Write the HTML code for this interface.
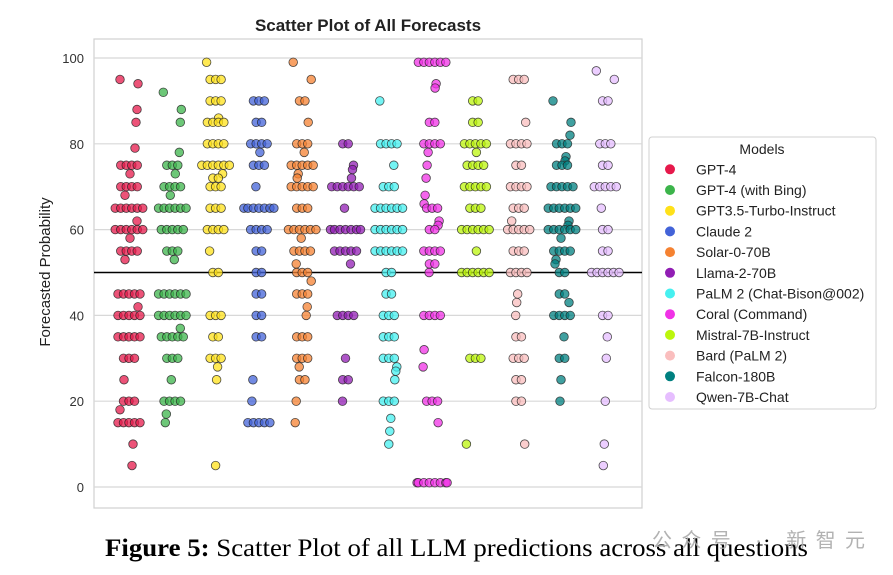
<!DOCTYPE html>
<html><head><meta charset="utf-8"><style>
body{margin:0;background:#fff;width:893px;height:575px;overflow:hidden;font-family:"Liberation Sans",sans-serif}
svg{position:absolute;left:0;top:0}
</style></head><body>
<svg id="chart" width="893" height="575">
<rect x="94" y="39" width="548" height="469" fill="#fff" stroke="#d0d0d0" stroke-width="1.2"/>
<g id="grid"></g>
<g id="yticks"></g>
<line id="ref50" x1="94" x2="642" stroke="#000" stroke-width="1.6"/>
<g id="points"></g>
<text x="368" y="31" text-anchor="middle" font-size="17" font-weight="bold" fill="#222">Scatter Plot of All Forecasts</text>
<text transform="translate(50,272) rotate(-90)" text-anchor="middle" font-size="15" fill="#222">Forecasted Probability</text>
<g id="legend">
<rect x="649" y="137" width="227" height="272" rx="3" fill="#fff" stroke="#d0d0d0"/>
<text x="762" y="154" text-anchor="middle" font-size="14" fill="#222">Models</text>
</g>
<text x="105" y="556" font-family="Liberation Serif,serif" font-size="25" fill="#000" textLength="703" lengthAdjust="spacingAndGlyphs"><tspan font-weight="bold">Figure 5:</tspan> Scatter Plot of all LLM predictions across all questions</text>
<text x="652" y="547" font-family="Liberation Sans,Noto Sans CJK SC,sans-serif" font-size="20" fill="#aaa" opacity="0.9" textLength="213">公众号 · 新智元</text>
</svg>
<script>
const models=["GPT-4","GPT-4 (with Bing)","GPT3.5-Turbo-Instruct","Claude 2","Solar-0-70B","Llama-2-70B","PaLM 2 (Chat-Bison@002)","Coral (Command)","Mistral-7B-Instruct","Bard (PaLM 2)","Falcon-180B","Qwen-7B-Chat"];
const colors=["#e6194b","#3cb44b","#ffe119","#4363d8","#f58231","#911eb4","#46f0f0","#f032e6","#bcf60c","#fabebe","#008080","#e6beff"];
const yTicks=[0,20,40,60,80,100];
const sGPT4=[95,94,88,85,79,75,75,75,75,73,70,70,70,70,68,65,65,65,65,65,65,62,60,60,60,60,60,60,58,55,55,55,55,53,45,45,45,45,45,42,40,40,40,40,40,35,35,35,35,35,30,30,30,25,20,20,20,18,15,15,15,15,15,10,5];
const sBing=[92,88,85,78,75,75,75,73,70,70,70,70,68,65,65,65,65,65,65,60,60,60,60,60,55,55,55,53,45,45,45,45,45,45,40,40,40,40,40,40,37,35,35,35,35,35,30,30,30,25,20,20,20,20,17,15];
const sGPT35=[99,95,95,95,90,90,90,86,85,85,85,85,80,80,80,80,75,75,75,75,75,75,73,72,72,70,70,70,65,65,65,60,60,60,60,55,50,50,40,40,40,35,35,30,30,30,28,25,5];
const sClaude=[90,90,90,85,85,80,80,80,80,78,75,75,75,70,65,65,65,65,65,65,65,60,60,60,60,55,55,50,50,45,45,40,40,35,35,25,20,15,15,15,15,15];
const sSolar=[99,95,90,90,85,80,80,80,78,75,75,75,75,75,73,72,70,70,70,70,70,65,65,65,60,60,60,60,60,60,58,55,55,55,55,52,50,50,50,48,45,45,45,42,40,35,35,35,30,30,30,28,25,25,20,15];
const sLlama=[80,80,75,74,72,70,70,70,70,70,70,65,60,60,60,60,60,60,60,55,55,55,55,55,52,40,40,40,40,30,25,25,20];
const sPalm=[90,80,80,80,80,75,70,70,70,65,65,65,65,65,65,60,60,60,60,60,60,55,55,55,55,55,55,50,50,45,45,40,40,40,35,35,35,30,30,30,28,27,25,20,20,20,16,13,10];
const sCoral=[99,99,99,99,99,99,94,93,85,85,80,80,80,80,78,75,72,68,66,65,65,65,62,61,60,60,55,55,55,55,52,52,50,40,40,40,40,32,28,20,20,20,15,1,1,1,1,1,1,1,1];
const sMistral=[90,90,85,85,80,80,80,80,80,78,75,75,75,75,70,70,70,70,70,65,65,65,60,60,60,60,60,60,55,50,50,50,50,50,50,30,30,30,10];
const sBard=[95,95,95,85,80,80,80,80,75,75,70,70,70,70,65,65,65,62,60,60,60,60,60,55,55,55,50,50,50,50,45,43,40,35,35,30,30,30,25,25,20,20,10];
const sFalcon=[90,85,82,80,80,80,77,76,75,75,75,70,70,70,70,70,65,65,65,65,65,65,62,61,60,60,60,60,60,60,58,55,55,55,55,53,52,50,50,45,45,43,40,40,40,40,35,30,30,25,20];
const sQwen=[97,95,90,90,80,80,80,75,75,70,70,70,70,70,65,60,60,55,55,50,50,50,50,50,50,40,40,35,30,20,10,5];
const series=[sGPT4,sBing,sGPT35,sClaude,sSolar,sLlama,sPalm,sCoral,sMistral,sBard,sFalcon,sQwen];
const NS="http://www.w3.org/2000/svg";
function y(v){return 487-(v/100)*429;}
function x(i){return 129+i*43.3;}
function mk(t,a){const e=document.createElementNS(NS,t);for(const k in a)e.setAttribute(k,a[k]);return e;}
const grid=document.getElementById('grid'),yt=document.getElementById('yticks');
yTicks.forEach(v=>{
 const l=mk('line',{x1:94,x2:642,y1:y(v),y2:y(v),stroke:'#d8d8d8','stroke-width':1.2});
 
 
 grid.appendChild(l);
 const t=mk('text',{x:84,y:y(v)+5,'text-anchor':'end','font-size':13,fill:'#333'});
 t.textContent=v;
 
 
 yt.appendChild(t);
});
const r=document.getElementById('ref50');r.setAttribute('y1',y(50));r.setAttribute('y2',y(50));
const pg=document.getElementById('points');
series.forEach((s,i)=>{
 const g=mk('g',{});
 
 
 const cnt={},tot={};
 s.forEach(v=>tot[v]=(tot[v]||0)+1);
 s.forEach((v,j)=>{
  const k=cnt[v]=(cnt[v]||0);cnt[v]++;
  const n=tot[v];
  let off=(k-(n-1)/2)*5.5;
  if(n==1)off=((j*37)%19)-9;
  off=Math.max(-15,Math.min(15,off));
  const c=mk('circle',{cx:x(i)+off,cy:y(v),r:4.3,fill:colors[i],'fill-opacity':0.75,stroke:'#222','stroke-opacity':0.8,'stroke-width':0.8});
  
  
  g.appendChild(c);
 });
 pg.appendChild(g);
});
const lg=document.getElementById('legend');
models.forEach((m,i)=>{
 const yy=169.3+i*20.7;
 const c=mk('circle',{cx:670,cy:yy,r:5,fill:colors[i]});
 
 
 lg.appendChild(c);
 const t=mk('text',{x:696,y:yy+5,'font-size':14,fill:'#222'});
 t.textContent=m;
 
 
 lg.appendChild(t);
});
</script>
</body></html>
